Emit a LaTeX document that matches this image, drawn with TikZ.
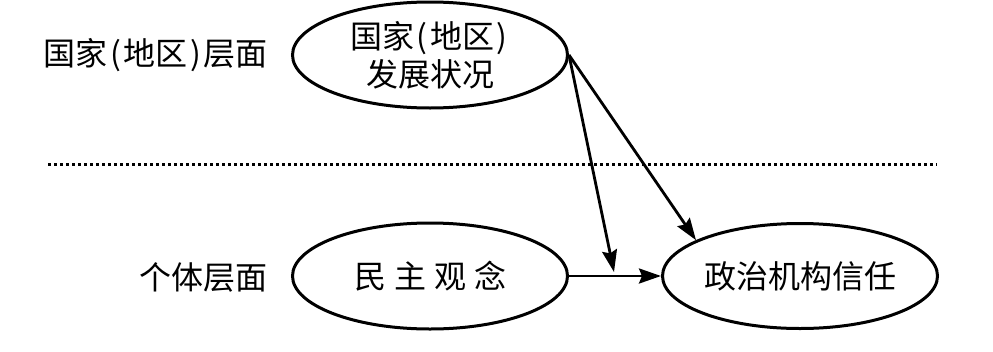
\documentclass[tikz,border=0pt]{standalone}
\usepackage{fontspec}
\setmainfont{Noto Sans CJK SC}
\usetikzlibrary{arrows.meta,shapes.geometric}
\newcommand{\lpar}{\makebox[0.5em][c]{(}}
\newcommand{\rpar}{\makebox[0.5em][c]{)}}
\begin{document}
\begin{tikzpicture}[x=1pt,y=-1pt,
  every node/.style={font=\fontsize{32}{38}\selectfont},
  oval/.style={draw,ellipse,line width=3pt,inner sep=0pt,minimum width=275pt,align=center},
  conn/.style={line width=2.8pt,-{Stealth[length=22pt,width=15pt,inset=3pt]}},
  sep/.style={line width=3pt,dash pattern=on 3pt off 3pt}]
\useasboundingbox (0,0) rectangle (993,351);
\node[oval,minimum height=106pt] (top) at (430,55) {国家\lpar 地区\rpar\\发展状况};
\node[oval,minimum height=106pt] (demo) at (430,276) {民\hspace{8pt}主\hspace{8pt}观\hspace{8pt}念};
\node[oval,minimum height=105pt] (trust) at (800,276) {政治机构信任};
\node[anchor=east] (lvl1) at (271,55) {国家\lpar 地区\rpar 层面};
\node[anchor=east] (lvl2) at (271,277) {个体层面};
\coordinate (dl) at (48,164);
\coordinate (dr) at (937,164);
\draw[sep] (dl) -- (dr);
\coordinate (mid) at (614,272);
\draw[conn] (demo.east) -- (trust.west);
\draw[conn] (top.east) -- (mid);
\draw[conn] (top.east) -- (trust.161);
\end{tikzpicture}
\end{document}
